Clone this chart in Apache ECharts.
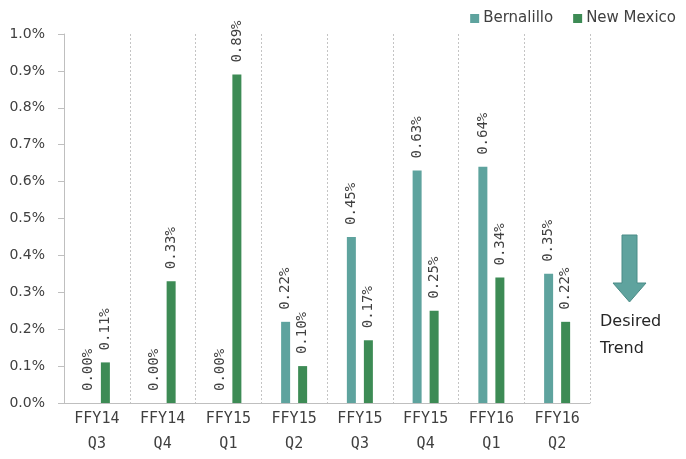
<!DOCTYPE html>
<html>
<head>
<meta charset="utf-8">
<script src="https://cdn.jsdelivr.net/npm/echarts@6/dist/echarts.min.js"></script>
<style>
  html, body { margin: 0; padding: 0; background: #ffffff; }
  #chart { width: 686px; height: 459px; }
</style>
</head>
<body>
<div id="chart"></div>
<script>
// Quarterly rates (in percent) for Bernalillo county and statewide New Mexico
var quarters = ['FFY14\nQ3', 'FFY14\nQ4', 'FFY15\nQ1', 'FFY15\nQ2', 'FFY15\nQ3', 'FFY15\nQ4', 'FFY16\nQ1', 'FFY16\nQ2'];
var bernalillo = [0.00, 0.00, 0.00, 0.22, 0.45, 0.63, 0.64, 0.35];
var newMexico = [0.11, 0.33, 0.89, 0.10, 0.17, 0.25, 0.34, 0.22];
var yTicks = { min: 0, max: 1.0, step: 0.1 };

var teal = '#5ea39e';
var green = '#3d8b55';
var monoFont = 'DejaVu Sans Mono';
var sansFont = 'DejaVu Sans';

var valueLabel = {
  show: true,
  position: 'top',
  rotate: 90,
  align: 'left',
  verticalAlign: 'middle',
  distance: 12,
  fontFamily: monoFont,
  fontSize: 14,
  color: '#404040',
  formatter: function (p) { return p.value.toFixed(2) + '%'; }
};

var chart = echarts.init(document.getElementById('chart'), null, { renderer: 'canvas' });

chart.setOption({
  animation: false,
  backgroundColor: '#ffffff',
  grid: { left: 64, right: 96, top: 34, bottom: 56, containLabel: false, outerBoundsMode: 'none' },
  legend: {
    right: 5,
    top: 6,
    itemWidth: 9,
    itemHeight: 9,
    itemGap: 20,
    icon: 'rect',
    textStyle: { fontFamily: sansFont, fontSize: 15, color: '#404040', padding: [0, 0, 0, -1] },
    data: ['Bernalillo', 'New Mexico']
  },
  xAxis: {
    type: 'category',
    data: quarters,
    boundaryGap: true,
    axisLine: { show: true, lineStyle: { color: '#bfbfbf', width: 1 } },
    axisTick: { show: false },
    splitLine: { show: true, lineStyle: { color: '#c4c4c4', type: [2, 2], width: 1 } },
    axisLabel: {
      interval: 0,
      margin: 4,
      fontFamily: monoFont,
      fontSize: 15,
      lineHeight: 25,
      color: '#404040'
    }
  },
  yAxis: {
    type: 'value',
    min: yTicks.min,
    max: yTicks.max,
    interval: yTicks.step,
    axisLine: { show: true, lineStyle: { color: '#bfbfbf', width: 1 } },
    axisTick: { show: true, length: 6, lineStyle: { color: '#bfbfbf' } },
    splitLine: { show: false },
    axisLabel: {
      margin: 19,
      fontFamily: sansFont,
      fontSize: 14,
      color: '#404040',
      formatter: function (v) { return v.toFixed(1) + '%'; }
    }
  },
  series: [
    {
      name: 'Bernalillo',
      type: 'bar',
      data: bernalillo,
      barWidth: 9,
      barGap: '89%',
      itemStyle: { color: teal },
      label: valueLabel
    },
    {
      name: 'New Mexico',
      type: 'bar',
      data: newMexico,
      barWidth: 9,
      barGap: '89%',
      itemStyle: { color: green },
      label: valueLabel
    }
  ],
  graphic: [
    {
      type: 'polygon',
      shape: {
        points: [[622, 235], [637, 235], [637, 283], [646, 283], [629.5, 302], [613, 283], [622, 283]]
      },
      style: { fill: '#5fa39e', stroke: '#4b8c87', lineWidth: 1 }
    },
    {
      type: 'text',
      left: 600,
      top: 308,
      style: {
        text: 'Desired\nTrend',
        fontFamily: sansFont,
        fontSize: 16,
        lineHeight: 27,
        fill: '#262626',
        align: 'center',
        width: 64
      }
    }
  ]
});
</script>
</body>
</html>
